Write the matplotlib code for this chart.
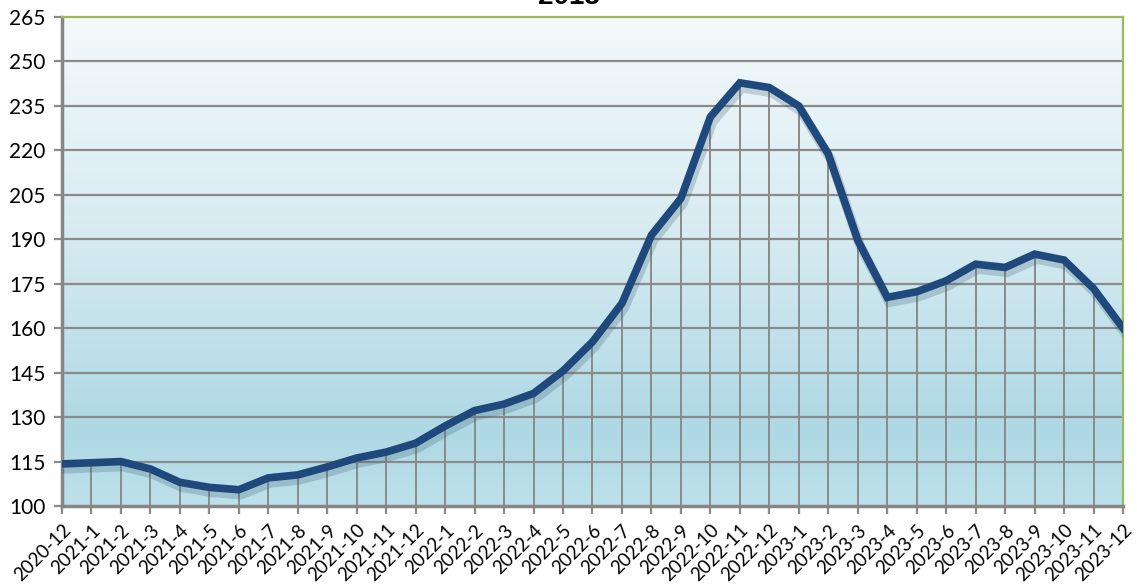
import numpy as np
import matplotlib
matplotlib.use('Agg')
import matplotlib.pyplot as plt
import matplotlib.patheffects as pe
from matplotlib.colors import LinearSegmentedColormap

# month labels and index values
months = ['2020-12', '2021-1', '2021-2', '2021-3', '2021-4', '2021-5', '2021-6',
          '2021-7', '2021-8', '2021-9', '2021-10', '2021-11', '2021-12',
          '2022-1', '2022-2', '2022-3', '2022-4', '2022-5', '2022-6', '2022-7',
          '2022-8', '2022-9', '2022-10', '2022-11', '2022-12',
          '2023-1', '2023-2', '2023-3', '2023-4', '2023-5', '2023-6', '2023-7',
          '2023-8', '2023-9', '2023-10', '2023-11', '2023-12']
values = [114.2, 114.6, 115.0, 112.5, 108.0, 106.3, 105.5,
          109.5, 110.5, 113.2, 116.2, 118.2, 121.2,
          127.0, 132.2, 134.4, 138.0, 145.6, 155.4, 168.4,
          191.4, 203.8, 231.3, 242.8, 241.2,
          235.0, 218.8, 189.7, 170.4, 172.3, 176.0, 181.6,
          180.5, 185.0, 183.0, 173.4, 160.0]
y_ticks = list(range(100, 266, 15))
title = '2015'

fig = plt.figure(figsize=(11.37, 5.85), dpi=100)
ax = fig.add_axes([0.0545, 0.135, 0.9332, 0.8359])

x = np.arange(len(months))
ax.set_xlim(0, len(months) - 1)
ax.set_ylim(100, 265)

# background gradient, light at the top, blue towards the bottom
cmap = LinearSegmentedColormap.from_list('bg', [
    (0.0, '#f4f9fb'), (0.45, '#d6ebf1'), (0.85, '#add8e4'), (1.0, '#bde1ea')])
grad = np.linspace(0, 1, 256).reshape(-1, 1)
ax.imshow(grad, cmap=cmap, aspect='auto', extent=[0, len(months) - 1, 100, 265],
          zorder=0, origin='upper')

# horizontal grid
for yv in y_ticks[1:-1]:
    ax.axhline(yv, color='#8a8a8a', lw=1.6, zorder=1)

# drop lines
ax.vlines(x, 100, values, color='#8a8a8a', lw=1.4, zorder=1)

ax.plot(x, values, color='#1f497d', lw=5.5, solid_joinstyle='miter', zorder=3,
        path_effects=[pe.SimpleLineShadow(offset=(1.5, -3.5), shadow_color='#3d5f70',
                                          alpha=0.25, linewidth=7),
                      pe.Normal()])

ax.set_yticks(y_ticks)
ax.set_yticklabels([str(v) for v in y_ticks], fontsize=15, family='Lato')
ax.set_xticks(x)
ax.set_xticklabels(months, rotation=45, ha='right', rotation_mode='anchor',
                   fontsize=13.5, family='Lato')
ax.tick_params(axis='both', direction='out', length=6, width=1.6, color='#8a8a8a')
ax.tick_params(axis='x', pad=5)
ax.tick_params(axis='y', pad=6)

for s in ['left', 'bottom']:
    ax.spines[s].set_color('#868686')
    ax.spines[s].set_linewidth(2.5)
for s in ['top', 'right']:
    ax.spines[s].set_color('#9bbb59')
    ax.spines[s].set_linewidth(1.6)

# the title sits mostly above the top edge, as in the original
fig.text(0.5, 0.993, title, ha='center', va='baseline', fontsize=20,
         fontweight='bold', family='Liberation Sans')

fig.savefig('out.png', dpi=100)
